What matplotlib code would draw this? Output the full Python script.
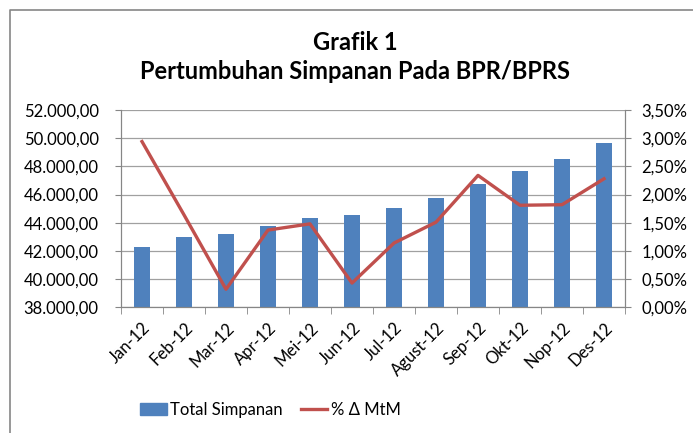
import matplotlib.pyplot as plt
import numpy as np
from matplotlib.lines import Line2D
from matplotlib.ticker import FuncFormatter
from matplotlib.transforms import ScaledTranslation

plt.rcParams['font.family'] = ['Lato', 'DejaVu Sans']

bulan = ['Jan-12', 'Feb-12', 'Mar-12', 'Apr-12', 'Mei-12', 'Jun-12',
         'Jul-12', 'Agust-12', 'Sep-12', 'Okt-12', 'Nop-12', 'Des-12']
total_simpanan = [42300, 42990, 43180, 43750, 44360, 44550,
                  45050, 45730, 46770, 47670, 48550, 49660]
mtm_persen = [2.94, 1.64, 0.32, 1.37, 1.48, 0.43,
              1.14, 1.51, 2.34, 1.81, 1.82, 2.28]

def fmt_angka(v, pos):
    s = '{:,.2f}'.format(v)
    return s.replace(',', 'X').replace('.', ',').replace('X', '.')

def fmt_persen(v, pos):
    return '{:.2f}%'.format(v).replace('.', ',')

fig = plt.figure(figsize=(6.93, 4.33), dpi=100)
ax = fig.add_axes([0.1746, 0.2903, 0.7273, 0.4557])
ax2 = ax.twinx()

x = np.arange(len(bulan))
ax.bar(x, total_simpanan, width=0.4, color='#4F81BD', zorder=2)
ax2.plot(x, mtm_persen, color='#C0504D', lw=2.4, zorder=3)

ax.set_ylim(38000, 52000)
ax.set_yticks(np.arange(38000, 52001, 2000))
ax.yaxis.set_major_formatter(FuncFormatter(fmt_angka))
ax2.set_ylim(0, 3.5)
ax2.set_yticks(np.arange(0, 3.51, 0.5))
ax2.yaxis.set_major_formatter(FuncFormatter(fmt_persen))
ax.set_xlim(-0.5, len(bulan) - 0.5)

ax.grid(axis='y', color='#A0A0A0', lw=0.9, zorder=0)
ax.set_axisbelow(True)
for a in (ax, ax2):
    a.spines['top'].set_visible(False)
    for s in ('left', 'right', 'bottom'):
        a.spines[s].set_color('#868686')

ax.set_xticks(np.arange(-0.5, len(bulan)), minor=True)
ax.tick_params(axis='x', which='major', length=0, pad=13)
ax.tick_params(axis='x', which='minor', length=5, color='#868686')
ax.tick_params(axis='y', labelsize=12, length=4, color='#868686', pad=12)
ax2.tick_params(axis='y', labelsize=12, length=4, color='#868686', pad=8)

ax.set_xticks(x)
ax.set_xticklabels(bulan, rotation=45, ha='right', va='center',
                   rotation_mode='anchor', fontsize=12)
# label bulan digeser sedikit ke kanan
geser = ScaledTranslation(6 / 100, 0, fig.dpi_scale_trans)
for tick in ax.xaxis.get_major_ticks():
    tick.label1.set_transform(tick.label1.get_transform() + geser)

fig.text(0.512, 0.903, 'Grafik 1', ha='center', va='center',
         fontsize=17, fontweight='bold')
fig.text(0.512, 0.834, 'Pertumbuhan Simpanan Pada BPR/BPRS', ha='center',
         va='center', fontsize=17, fontweight='bold')

handles = [plt.Rectangle((0, 0), 1, 1, color='#4F81BD'),
           Line2D([0], [0], color='#C0504D', lw=2.4)]
fig.legend(handles, ['Total Simpanan', '% Δ MtM'], loc='center',
           bbox_to_anchor=(0.39, 0.053), ncol=2, frameon=False,
           fontsize=12, handlelength=1.6, handleheight=0.7,
           columnspacing=1.1, handletextpad=0.2)

# bingkai chart
fig.add_artist(Line2D([10 / 693, 10 / 693, 1], [0, 1 - 10 / 433, 1 - 10 / 433],
                      color='#868686', lw=1.2))

fig.savefig('out.png', dpi=100)
